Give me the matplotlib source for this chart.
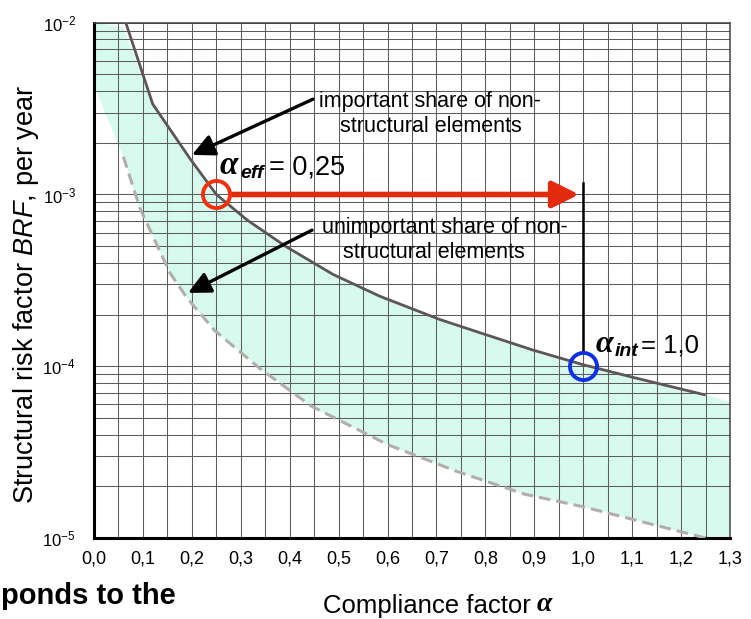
import matplotlib
matplotlib.use('Agg')
import matplotlib.pyplot as plt
from matplotlib.ticker import MultipleLocator, LogLocator, FixedLocator, FixedFormatter

plt.rcParams['font.family'] = ['Liberation Sans', 'DejaVu Sans']
plt.rcParams['mathtext.fontset'] = 'custom'
plt.rcParams['mathtext.rm'] = 'Liberation Sans'
plt.rcParams['mathtext.it'] = 'Liberation Sans:italic'
plt.rcParams['mathtext.bf'] = 'Liberation Sans:bold'

# --- data ---
# upper curve: important share of non-structural elements
hi_alpha = [0.065, 0.12, 0.196, 0.25, 0.313, 0.394, 0.489, 0.585, 0.707, 0.803, 0.898, 1.0, 1.11, 1.25]
hi_brf = [1.0e-2, 3.36e-3, 1.62e-3, 1.0e-3, 7.1e-4, 4.94e-4, 3.42e-4, 2.55e-4, 1.87e-4, 1.52e-4, 1.24e-4, 1.02e-4, 8.5e-5, 6.8e-5]
# lower curve: unimportant share
lo_alpha = [0.06, 0.094, 0.155, 0.19, 0.246, 0.338, 0.444, 0.6, 0.74, 0.88, 1.0, 1.25]
lo_brf = [1.66e-3, 8.3e-4, 3.5e-4, 2.5e-4, 1.62e-4, 9.75e-5, 5.86e-5, 3.5e-5, 2.45e-5, 1.8e-5, 1.52e-5, 1.0e-5]
# shaded band extensions beyond the curves
band_left_alpha = [0.0, 0.06]
band_left_top = [1.0e-2, 9.4e-3]
band_left_bottom = 4.3e-3
band_right_alpha = 1.3
band_right_top = 6.2e-5
band_right_bottom = 1.0e-5

alpha_eff, brf_eff = 0.25, 1.0e-3
alpha_int, brf_int = 1.0, 1.0e-4

x_ticks = [0.0, 0.1, 0.2, 0.3, 0.4, 0.5, 0.6, 0.7, 0.8, 0.9, 1.0, 1.1, 1.2, 1.3]
x_labels = ['0,0', '0,1', '0,2', '0,3', '0,4', '0,5', '0,6', '0,7', '0,8', '0,9', '1,0', '1,1', '1,2', '1,3']

W, H = 751, 619
fig = plt.figure(figsize=(W / 100, H / 100), dpi=100, facecolor='white')
ax = fig.add_axes([94 / W, 1 - 538 / H, 636 / W, 515.3 / H])

def px(x, y):
    return x / W, 1 - y / H

# band
fa = band_left_alpha + hi_alpha[1:] + [band_right_alpha, band_right_alpha] + lo_alpha[::-1] + [band_left_alpha[0]]
fb = band_left_top + hi_brf[1:] + [band_right_top, band_right_bottom] + lo_brf[::-1] + [band_left_bottom]
ax.fill(fa, fb, color='#d7faef', lw=0, zorder=0.2)

ax.plot(hi_alpha, hi_brf, color='#5e5656', lw=2.0, zorder=3, solid_capstyle='butt')
ax.plot(lo_alpha, lo_brf, color='#b3adab', lw=2.2, ls=(0, (3.8, 2.0)), zorder=3)

ax.set_yscale('log')
ax.set_xlim(0, 1.3)
ax.set_ylim(1e-5, 1e-2)
ax.xaxis.set_major_locator(FixedLocator(x_ticks))
ax.xaxis.set_major_formatter(FixedFormatter(x_labels))
ax.xaxis.set_minor_locator(MultipleLocator(0.05))
ax.yaxis.set_minor_locator(LogLocator(base=10, subs=range(2, 10)))
ax.set_axisbelow(True)
ax.grid(True, which='both', color='#5c5c5c', lw=0.75)
ax.tick_params(which='both', length=0)
ax.tick_params(axis='x', labelsize=13, pad=9)
ax.tick_params(axis='y', labelsize=12, pad=13)
ax.yaxis.set_minor_formatter(plt.NullFormatter())
for s in ['left', 'bottom']:
    ax.spines[s].set_linewidth(2.2)
    ax.spines[s].set_color('black')
for s in ['top', 'right']:
    ax.spines[s].set_linewidth(1.1)
    ax.spines[s].set_color('#444444')

# red arrow from alpha_eff to alpha_int
ax.annotate('', xy=(alpha_int, brf_eff), xytext=(alpha_eff, brf_eff),
            arrowprops=dict(arrowstyle='-|>,head_length=0.4,head_width=0.2', color='#e42a0c',
                            lw=4, mutation_scale=40, shrinkA=11, shrinkB=3), zorder=4)
ax.plot([alpha_int, alpha_int], [brf_eff * 1.17, brf_int * 1.22], color='black', lw=1.8, zorder=4)
ax.plot(alpha_eff, brf_eff, 'o', ms=19.5, mfc='none', mec='#f5300d', mew=2.8, zorder=5)
ax.plot(alpha_int, brf_int, 'o', ms=19.5, mfc='none', mec='#0b30e6', mew=2.8, zorder=5)

# black arrows
arr = dict(arrowstyle='-|>,head_length=0.45,head_width=0.22', color='black', lw=2.4,
           mutation_scale=30, shrinkA=0, shrinkB=0)
ax.annotate('', xy=(0.2003, 1.70e-3), xytext=(0.4477, 3.59e-3), arrowprops=arr, zorder=4)
ax.annotate('', xy=(0.1922, 2.67e-4), xytext=(0.4457, 6.2e-4), arrowprops=arr, zorder=4)

fs = 15.5
fig.text(*px(319, 107), 'important share of non-', fontsize=fs, va='baseline')
fig.text(*px(340, 132), 'structural elements', fontsize=fs, va='baseline')
fig.text(*px(322, 233), 'unimportant share of non-', fontsize=fs, va='baseline')
fig.text(*px(343, 258), 'structural elements', fontsize=fs, va='baseline')

# alpha_eff / alpha_int labels
serif_bi = dict(family='Liberation Serif', weight='bold', style='italic', va='baseline')
sans_bi = dict(family='Liberation Sans', weight='bold', style='italic', va='baseline')
fig.text(*px(220, 174), 'α', fontsize=24, **serif_bi)
fig.text(*px(240, 178), 'eff', fontsize=14, **sans_bi)
fig.text(*px(269, 174), '= 0,25', fontsize=19.5, va='baseline')
fig.text(*px(596, 352), 'α', fontsize=23, **serif_bi)
fig.text(*px(615, 356), 'int', fontsize=14, **sans_bi)
fig.text(*px(641, 352), '= 1,0', fontsize=18.5, va='baseline')

# axis labels
fig.text(*px(26, 294), r'Structural risk factor $\mathit{BRF}$, per year', fontsize=19.5,
         rotation=90, ha='center', va='center')
fig.text(*px(323, 613), 'Compliance factor', fontsize=18.5, va='baseline')
fig.text(*px(537, 611), 'α', fontsize=20, **serif_bi)

# cut-off text from the page
fig.text(*px(176, 604), 'ponds to the', fontsize=21, weight='bold', ha='right', va='baseline')

fig.savefig('out.png', dpi=100, facecolor='white')
